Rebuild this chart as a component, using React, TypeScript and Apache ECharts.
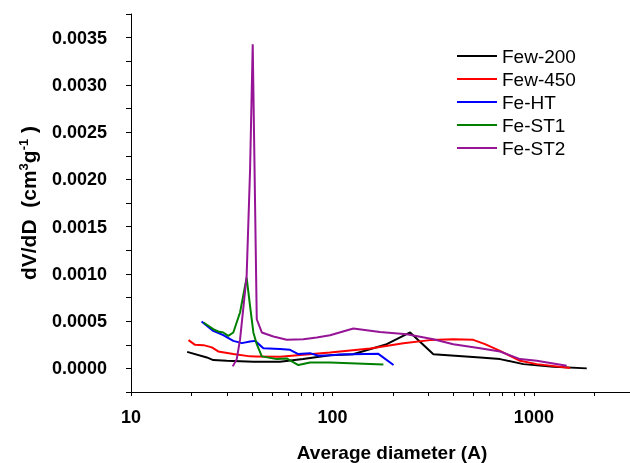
import React, { useEffect, useRef } from "react";
import * as echarts from "echarts";

// ---- data (diameter in Å, dV/dD in cm3/g) ----
const few200D = [19.0, 23.8, 25.6, 29.9, 40.5, 54.9, 71.5, 97.3, 126.5, 186, 243, 317, 541, 679, 887, 1250, 1830];
const few200V = [0.000175, 0.000116, 0.000088, 0.00008, 0.00007, 0.00007, 0.000098, 0.00014, 0.00015, 0.000256, 0.00038, 0.00015, 0.000116, 0.000098, 0.000045, 0.000017, 0.0];

const few450D = [19.3, 20.8, 22.9, 25.2, 27.1, 32.2, 39, 54.9, 71.7, 97.3, 154, 225, 305, 398, 500, 572, 679, 854, 1034, 1514];
const few450V = [0.000299, 0.000249, 0.000246, 0.000222, 0.000179, 0.000151, 0.000127, 0.000122, 0.000143, 0.000169, 0.000211, 0.000267, 0.000299, 0.000309, 0.000302, 0.000256, 0.000186, 0.00008, 0.000045, 0.000004];

const feHTD = [22.4, 25.6, 28.7, 32.2, 35.5, 39, 41.3, 45.4, 54.9, 61.6, 67.7, 77.4, 85.1, 97.3, 109, 169, 201];
const feHTV = [0.000496, 0.000397, 0.000351, 0.000291, 0.000267, 0.000285, 0.000291, 0.000214, 0.000204, 0.000196, 0.000151, 0.000161, 0.000133, 0.00014, 0.000148, 0.000154, 0.000035];

const feST1D = [22.9, 25.6, 27.1, 28.7, 30.4, 32.2, 34.8, 37.5, 39, 40.5, 42.1, 44.6, 52.9, 59.3, 67.7, 77.4, 97.3, 179];
const feST1V = [0.000485, 0.000415, 0.00039, 0.00038, 0.000344, 0.00038, 0.000594, 0.00096, 0.00066, 0.00038, 0.000256, 0.000127, 0.000098, 0.000105, 0.000035, 0.000063, 0.000063, 0.000042];

const feST2D = [32, 33.5, 34.8, 37.5, 39, 40.2, 42.1, 44.6, 50.9, 59.3, 71.7, 83.6, 97.3, 127, 172, 234, 317, 398, 541, 679, 854, 1034, 1455];
const feST2V = [0.000021, 0.000098, 0.000309, 0.000977, 0.0021, 0.00343, 0.00052, 0.00038, 0.000338, 0.000302, 0.000309, 0.000327, 0.000351, 0.000422, 0.000386, 0.000362, 0.000309, 0.000256, 0.000214, 0.000179, 0.000098, 0.00008, 0.000027];

const seriesNames = ["Few-200", "Few-450", "Fe-HT", "Fe-ST1", "Fe-ST2"];
const seriesColors = ["#000000", "#ff0000", "#0000ff", "#008000", "#961496"];

// ---- axis ticks ----
const xMinD = 10;
const xMaxD = 3000;
const xLabelD = [10, 100, 1000];
const xTickD = [10, 20, 30, 40, 50, 60, 70, 80, 90, 100, 200, 300, 400, 500, 600, 700, 800, 900, 1000, 2000, 3000];
const yMin = -0.00025;
const yMax = 0.00375;
const yLabels = [0, 0.0005, 0.001, 0.0015, 0.002, 0.0025, 0.003, 0.0035];
const yTicks = [-0.00025, 0, 0.00025, 0.0005, 0.00075, 0.001, 0.00125, 0.0015, 0.00175, 0.002, 0.00225, 0.0025, 0.00275, 0.003, 0.00325, 0.0035, 0.00375];

const FONT = "'Liberation Sans', Arial, sans-serif";

export default function App() {
  const ref = useRef<HTMLDivElement>(null);
  useEffect(() => {
    if (!ref.current) return;
    const chart = echarts.init(ref.current, null, { renderer: "svg" });
    const all = [
      [few200D, few200V],
      [few450D, few450V],
      [feHTD, feHTV],
      [feST1D, feST1V],
      [feST2D, feST2V],
    ];
    const lg = (d: number) => Math.log10(d);
    chart.setOption({
      animation: false,
      grid: { left: 131, top: 14, right: 0, bottom: 71, containLabel: false },
      legend: {
        orient: "vertical",
        left: 457,
        top: 46,
        padding: 0,
        itemWidth: 40,
        itemHeight: 2,
        itemGap: 3,
        icon: "rect",
        data: seriesNames,
        textStyle: { fontFamily: FONT, fontSize: 19, color: "#000", lineHeight: 20 },
      },
      xAxis: {
        type: "value",
        min: lg(xMinD),
        max: lg(xMaxD),
        axisLine: { show: true, onZero: false, lineStyle: { color: "#000", width: 1 } },
        axisTick: { show: true, length: 4, customValues: xTickD.map(lg), lineStyle: { color: "#000" } },
        axisLabel: {
          customValues: xLabelD.map(lg),
          formatter: (v: number) => String(Math.round(Math.pow(10, v))),
          fontFamily: FONT,
          fontSize: 18,
          fontWeight: "bold",
          color: "#000",
          margin: 16,
        },
        splitLine: { show: false },
      },
      yAxis: {
        type: "value",
        min: yMin,
        max: yMax,
        axisLine: { show: true, onZero: false, lineStyle: { color: "#000", width: 1 } },
        axisTick: { show: true, length: 5, customValues: yTicks, lineStyle: { color: "#000" } },
        axisLabel: {
          customValues: yLabels,
          formatter: (v: number) => v.toFixed(4),
          fontFamily: FONT,
          fontSize: 18,
          fontWeight: "bold",
          color: "#000",
          margin: 24,
        },
        splitLine: { show: false },
        name: "{a|dV/dD  (cm}{s|3}{a|g}{s|-1}{a| )}",
        nameLocation: "middle",
        nameGap: 92,
        nameRotate: 90,
        nameTextStyle: {
          rich: {
            a: { fontFamily: FONT, fontSize: 21, fontWeight: "bold", color: "#000", lineHeight: 22, verticalAlign: "middle" },
            s: { fontFamily: FONT, fontSize: 13, fontWeight: "bold", color: "#000", lineHeight: 13, verticalAlign: "top" },
          },
        },
      },
      graphic: [
        {
          type: "text",
          x: 392,
          y: 452,
          style: {
            text: "Average diameter (A)",
            fontFamily: FONT,
            fontSize: 19,
            fontWeight: "bold",
            fill: "#000",
            align: "center",
            verticalAlign: "middle",
          },
        },
      ],
      series: all.map(([D, V], i) => ({
        name: seriesNames[i],
        type: "line",
        showSymbol: false,
        symbol: "none",
        smooth: false,
        lineStyle: { color: seriesColors[i], width: 2 },
        itemStyle: { color: seriesColors[i] },
        data: D.map((d, j) => [lg(d), V[j]]),
      })),
    });
    return () => chart.dispose();
  }, []);
  return <div ref={ref} style={{ position: "fixed", left: 0, top: 0, width: 630, height: 463 }} />;
}
